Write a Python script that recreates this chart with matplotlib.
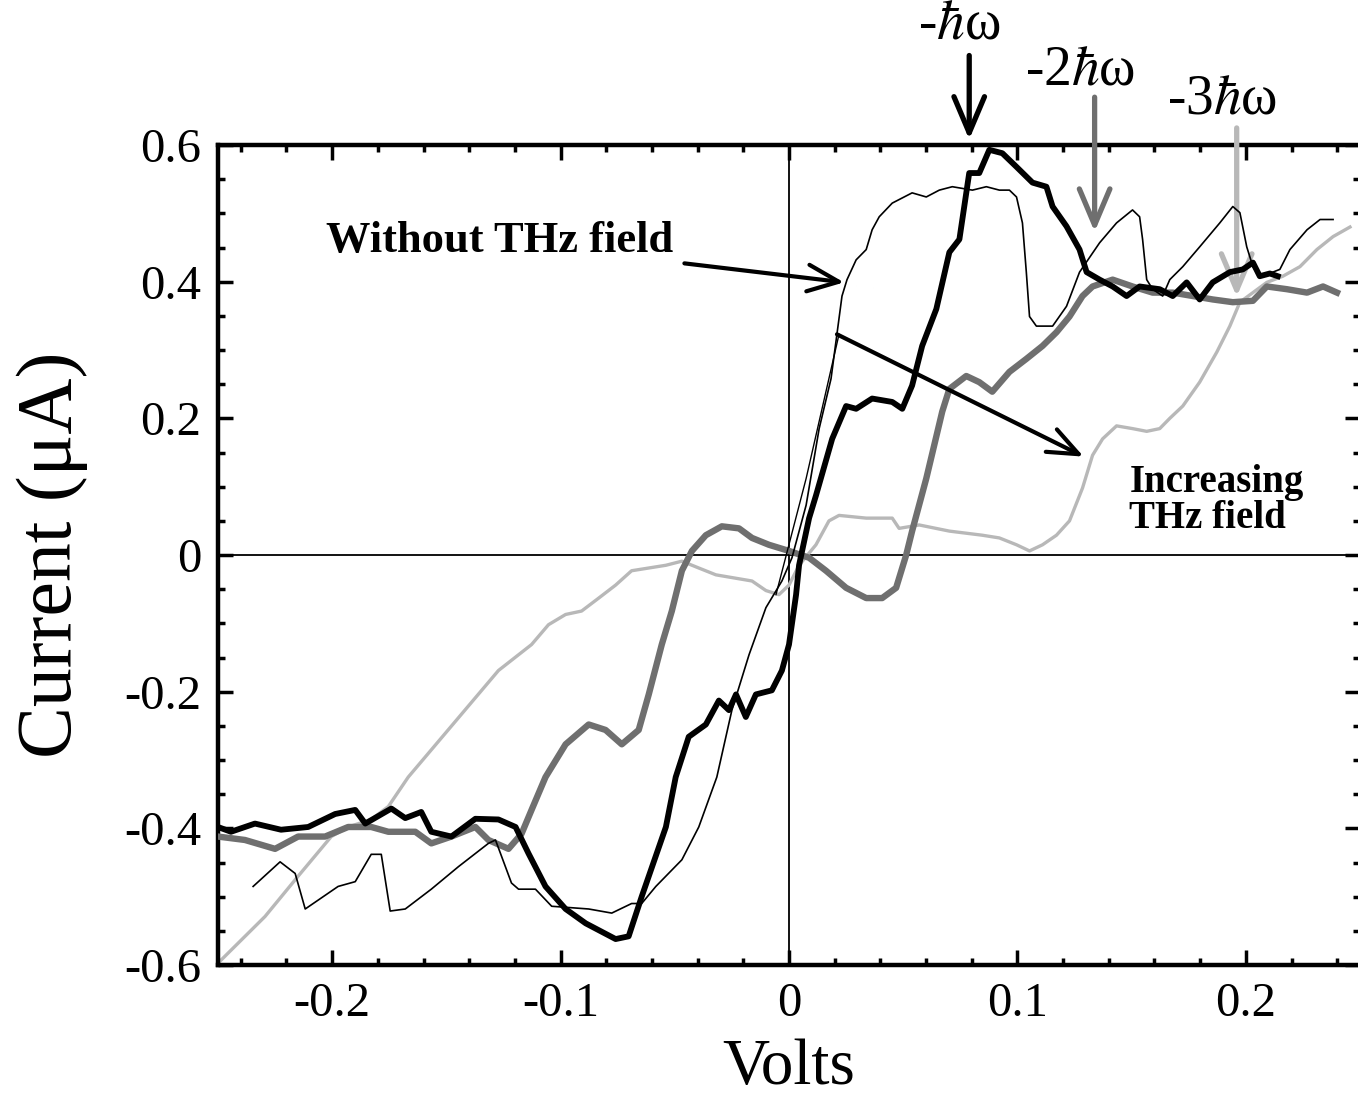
import numpy as np
import matplotlib
matplotlib.use("Agg")
import matplotlib.pyplot as plt
from matplotlib.ticker import MultipleLocator, FuncFormatter

plt.rcParams['font.family'] = ['Liberation Serif', 'DejaVu Serif']
plt.rcParams['mathtext.fontset'] = 'stix'

# thin black: without THz field
x_off = [-0.2346, -0.2228, -0.2162, -0.2118, -0.1974, -0.1899, -0.1829, -0.1785, -0.1746,
         -0.1680, -0.1566, -0.1447, -0.1316, -0.1285, -0.1215, -0.1184, -0.1110, -0.1039,
         -0.0877, -0.0776, -0.0689, -0.0645, -0.0583, -0.0469, -0.0395, -0.0316, -0.0250,
         -0.0175, -0.0101, -0.0031, 0.0013, 0.0075, 0.0132, 0.0184, 0.0232, 0.0254, 0.0294,
         0.0338, 0.0364, 0.0395, 0.0452, 0.0539, 0.0601, 0.0658, 0.0715, 0.0803, 0.0864,
         0.0921, 0.0965, 0.0996, 0.1022, 0.1039, 0.1053, 0.1083, 0.1154, 0.1215, 0.1272,
         0.1360, 0.1434, 0.1504, 0.1535, 0.1548, 0.1566, 0.1592, 0.1636, 0.1667, 0.1724,
         0.1798, 0.1886, 0.1943, 0.1974, 0.2004, 0.2031, 0.2061, 0.2118, 0.2149, 0.2193,
         0.2268, 0.2325, 0.2382]
y_off = [-0.485, -0.449, -0.466, -0.518, -0.485, -0.478, -0.438, -0.438, -0.521,
         -0.518, -0.489, -0.456, -0.422, -0.417, -0.480, -0.489, -0.489, -0.514,
         -0.518, -0.524, -0.510, -0.510, -0.485, -0.446, -0.398, -0.325, -0.227,
         -0.146, -0.077, -0.038, -0.004, 0.073, 0.185, 0.258, 0.379, 0.403, 0.432,
         0.447, 0.476, 0.495, 0.515, 0.530, 0.524, 0.534, 0.539, 0.534, 0.539,
         0.534, 0.534, 0.524, 0.486, 0.414, 0.349, 0.335, 0.335, 0.364, 0.414,
         0.457, 0.486, 0.505, 0.495, 0.462, 0.403, 0.389, 0.379, 0.403, 0.422,
         0.451, 0.486, 0.510, 0.501, 0.451, 0.422, 0.408, 0.414, 0.418, 0.447,
         0.476, 0.491, 0.491]

# second faint thin trace near the origin
x_off2 = [-0.0057, 0.0075, 0.0219]
y_off2 = [-0.058, 0.112, 0.323]

# thick black
x_b = [-0.2500, -0.2443, -0.2338, -0.2224, -0.2105, -0.1987, -0.1899, -0.1855, -0.1741,
       -0.1680, -0.1610, -0.1566, -0.1478, -0.1373, -0.1272, -0.1197, -0.1140, -0.1066,
       -0.0978, -0.0890, -0.0759, -0.0702, -0.0645, -0.0539, -0.0496, -0.0439, -0.0364,
       -0.0307, -0.0263, -0.0232, -0.0189, -0.0145, -0.0075, -0.0031, 0.0000, 0.0031,
       0.0044, 0.0088, 0.0118, 0.0189, 0.0250, 0.0294, 0.0364, 0.0452, 0.0496, 0.0539,
       0.0583, 0.0645, 0.0702, 0.0746, 0.0789, 0.0833, 0.0877, 0.0934, 0.0996, 0.1066,
       0.1127, 0.1154, 0.1215, 0.1272, 0.1303, 0.1360, 0.1417, 0.1478, 0.1535, 0.1623,
       0.1680, 0.1741, 0.1798, 0.1855, 0.1930, 0.1987, 0.2031, 0.2061, 0.2105, 0.2140]
y_b = [-0.398, -0.405, -0.393, -0.402, -0.398, -0.379, -0.373, -0.393, -0.371,
       -0.385, -0.376, -0.405, -0.412, -0.386, -0.387, -0.398, -0.437, -0.485,
       -0.518, -0.539, -0.562, -0.558, -0.500, -0.398, -0.325, -0.266, -0.248,
       -0.213, -0.227, -0.204, -0.237, -0.204, -0.198, -0.169, -0.131, -0.058,
       -0.015, 0.054, 0.087, 0.170, 0.218, 0.214, 0.229, 0.224, 0.214, 0.248,
       0.306, 0.360, 0.443, 0.462, 0.559, 0.559, 0.593, 0.588, 0.568, 0.545,
       0.539, 0.510, 0.481, 0.447, 0.414, 0.403, 0.393, 0.379, 0.393, 0.389,
       0.379, 0.399, 0.374, 0.399, 0.414, 0.418, 0.428, 0.408, 0.412, 0.408]

# dark gray
x_g = [-0.2500, -0.2382, -0.2250, -0.2149, -0.2031, -0.1930, -0.1829, -0.1754, -0.1636,
       -0.1566, -0.1478, -0.1373, -0.1316, -0.1228, -0.1171, -0.1127, -0.1066, -0.0978,
       -0.0877, -0.0803, -0.0732, -0.0658, -0.0614, -0.0557, -0.0513, -0.0469, -0.0425,
       -0.0364, -0.0294, -0.0219, -0.0162, -0.0088, 0.0000, 0.0088, 0.0162, 0.0250,
       0.0338, 0.0408, 0.0469, 0.0513, 0.0539, 0.0601, 0.0671, 0.0702, 0.0776, 0.0833,
       0.0890, 0.0965, 0.1039, 0.1110, 0.1171, 0.1228, 0.1285, 0.1329, 0.1417, 0.1504,
       0.1592, 0.1680, 0.1768, 0.1855, 0.1943, 0.2031, 0.2092, 0.2180, 0.2268, 0.2338,
       0.2399]
y_g = [-0.412, -0.417, -0.430, -0.412, -0.412, -0.398, -0.398, -0.405, -0.405,
       -0.422, -0.412, -0.398, -0.417, -0.430, -0.408, -0.373, -0.325, -0.277,
       -0.248, -0.256, -0.277, -0.256, -0.204, -0.131, -0.082, -0.023, 0.006,
       0.029, 0.042, 0.039, 0.025, 0.015, 0.006, -0.004, -0.023, -0.048,
       -0.063, -0.063, -0.048, 0.000, 0.035, 0.112, 0.210, 0.243, 0.262, 0.253,
       0.239, 0.268, 0.287, 0.306, 0.326, 0.349, 0.379, 0.393, 0.403, 0.393,
       0.384, 0.384, 0.379, 0.374, 0.370, 0.372, 0.393, 0.389, 0.384, 0.393,
       0.384]

# light gray
x_l = [-0.2490, -0.2469, -0.2294, -0.2149, -0.2004, -0.1930, -0.1829, -0.1754, -0.1667,
       -0.1272, -0.1127, -0.1053, -0.0978, -0.0908, -0.0833, -0.0759, -0.0689, -0.0614,
       -0.0539, -0.0469, -0.0395, -0.0320, -0.0250, -0.0162, -0.0101, -0.0044, 0.0000,
       0.0044, 0.0118, 0.0175, 0.0219, 0.0338, 0.0452, 0.0482, 0.0570, 0.0702, 0.0846,
       0.0921, 0.0996, 0.1053, 0.1110, 0.1171, 0.1228, 0.1285, 0.1329, 0.1373, 0.1434,
       0.1504, 0.1566, 0.1623, 0.1667, 0.1724, 0.1798, 0.1873, 0.1930, 0.1974, 0.2031,
       0.2092, 0.2162, 0.2237, 0.2311, 0.2382, 0.2456]
y_l = [-0.594, -0.587, -0.529, -0.470, -0.412, -0.398, -0.387, -0.368, -0.325,
       -0.169, -0.131, -0.102, -0.087, -0.082, -0.063, -0.044, -0.023, -0.019,
       -0.015, -0.009, -0.019, -0.029, -0.033, -0.038, -0.052, -0.058, -0.044,
       -0.015, 0.015, 0.050, 0.058, 0.054, 0.054, 0.039, 0.044, 0.035, 0.029,
       0.025, 0.015, 0.006, 0.015, 0.029, 0.050, 0.098, 0.146, 0.170, 0.189,
       0.185, 0.181, 0.185, 0.200, 0.218, 0.253, 0.297, 0.335, 0.370, 0.384,
       0.399, 0.408, 0.422, 0.447, 0.466, 0.480]

# photon-step markers: x position, arrow top, arrow tip
step_labels = [r'-$\hbar$ω', r'-2$\hbar$ω', r'-3$\hbar$ω']
step_x = [0.0789, 0.1338, 0.1960]
step_top = [0.731, 0.670, 0.625]
step_tip = [0.608, 0.473, 0.378]
step_text_x = [0.0746, 0.1276, 0.1895]
step_text_y = [0.776, 0.709, 0.667]
step_colors = ['black', '#6f6f6f', '#b8b8b8']

fig = plt.figure(figsize=(13.58, 11.02), dpi=100)
ax = fig.add_axes([0.1605, 0.1243, 0.8410, 0.7441])

ax.axhline(0, color='black', lw=1.3, zorder=1)
ax.axvline(0, color='black', lw=1.3, zorder=1)

ax.plot(x_l, y_l, color='#b8b8b8', lw=2.4, zorder=2)
ax.plot(x_g, y_g, color='#6f6f6f', lw=4.6, zorder=3)
ax.plot(x_off, y_off, color='black', lw=1.2, zorder=4)
ax.plot(x_off2, y_off2, color='black', lw=1.0, zorder=4)
ax.plot(x_b, y_b, color='black', lw=4.2, zorder=5)

ax.set_xlim(-0.25, 0.25)
ax.set_ylim(-0.6, 0.6)

ax.xaxis.set_major_locator(MultipleLocator(0.1))
ax.xaxis.set_minor_locator(MultipleLocator(0.02))
ax.yaxis.set_major_locator(MultipleLocator(0.2))
ax.yaxis.set_minor_locator(MultipleLocator(0.05))


def fmt(v, pos):
    if abs(v) < 1e-9:
        return '0'
    return '%.1f' % v


ax.xaxis.set_major_formatter(FuncFormatter(fmt))
ax.yaxis.set_major_formatter(FuncFormatter(fmt))
ax.tick_params(which='both', direction='in', top=True, right=True, width=2.5,
               labelsize=35, color='black')
ax.tick_params(which='major', length=11, pad=12)
ax.tick_params(which='minor', length=5)
for s in ax.spines.values():
    s.set_linewidth(3.2)

ax.set_xlabel('Volts', fontsize=47, labelpad=9)
ax.set_ylabel('Current (\u03bcA)', fontsize=56, labelpad=26)

for lab, sx, top, tip, tx, ty, c in zip(step_labels, step_x, step_top, step_tip,
                                         step_text_x, step_text_y, step_colors):
    ax.annotate('', xy=(sx, tip), xytext=(sx, top), annotation_clip=False,
                arrowprops=dict(arrowstyle='->,head_length=2.6,head_width=1.1',
                                color=c, lw=3.8, shrinkA=0, shrinkB=0))
    ax.text(tx, ty, lab, fontsize=40, ha='center', va='center', clip_on=False)

ax.annotate('Without THz field', xy=(0.0241, 0.399), xytext=(-0.2026, 0.459),
            fontsize=32, fontweight='bold', ha='left', va='center',
            arrowprops=dict(arrowstyle='->,head_length=0.7,head_width=0.3',
                            color='black', lw=3.0, shrinkA=6, shrinkB=0))
ax.annotate('', xy=(0.129, 0.144), xytext=(0.021, 0.323),
            arrowprops=dict(arrowstyle='->,head_length=2.2,head_width=0.9',
                            color='black', lw=3.0, shrinkA=0, shrinkB=0))
ax.text(0.149, 0.08, 'Increasing\nTHz field', fontsize=28, fontweight='bold',
        ha='left', va='center', linespacing=0.95)

fig.savefig('out.png', dpi=100)
